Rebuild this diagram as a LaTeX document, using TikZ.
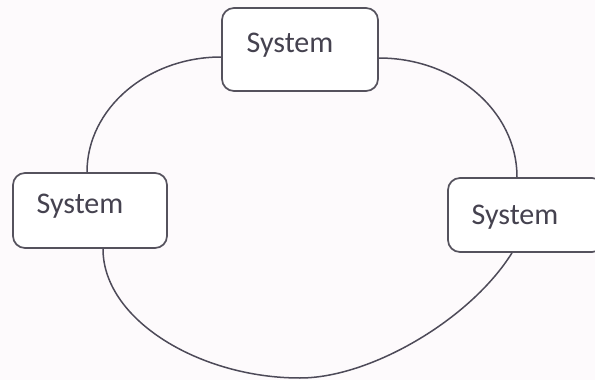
\documentclass[tikz,border=0pt]{standalone}
\usepackage{fontspec}
\setmainfont{Carlito}
\usetikzlibrary{calc}
\definecolor{paper}{HTML}{FDFAFC}
\definecolor{boxgray}{HTML}{55525D}
\definecolor{linegray}{HTML}{4D4A58}
\definecolor{textgray}{HTML}{45424F}
\begin{document}
\begin{tikzpicture}[x=1pt,y=-1pt,
  sysbox/.style n args={2}{draw=boxgray, line width=1.7pt, rounded corners=12pt,
    fill=white, minimum width=#1, minimum height=#2, inner sep=0pt},
  syslabel/.style={anchor=base, inner sep=0pt, text=textgray,
    font=\fontsize{30}{32}\selectfont},
  loopline/.style={draw=linegray, line width=1.5pt}]
  % page
  \fill[paper] (0,0) rectangle (595,380);
  \useasboundingbox (0,0) rectangle (595,380);

  % the three system boxes
  \node[sysbox={156pt}{83pt}] (top)   at (300,49.5) {};
  \node[sysbox={154pt}{75pt}] (left)  at (90,210.5) {};
  \node[sysbox={156pt}{74pt}] (right) at (526,215) {};

  % points where the loop meets the boxes
  \coordinate (tl)  at ($(top.west)+(0,7.5)$);
  \coordinate (tr)  at ($(top.east)+(0,8.5)$);
  \coordinate (lt)  at ($(left.north)+(-3,0)$);
  \coordinate (lb)  at ($(left.south)+(13,0)$);
  \coordinate (rt)  at ($(right.north)+(-9,0)$);
  \coordinate (rb)  at ($(right.south)+(-14,0)$);
  \coordinate (bot) at (300,378);

  % the loop joining the systems
  \draw[loopline] (tl) .. controls (147.5,57) and (87,108.5) .. (lt);
  \draw[loopline] (tr) .. controls (455,58) and (517,111) .. (rt);
  \draw[loopline] (lb) .. controls (103,320) and (200,378) .. (bot)
                       .. controls (370,378) and (470,320) .. (rb);

  % labels
  \node[syslabel] (ttop)   at (290,52)  {System};
  \node[syslabel] (tleft)  at (80,213)  {System};
  \node[syslabel] (tright) at (515,224) {System};
\end{tikzpicture}
\end{document}
